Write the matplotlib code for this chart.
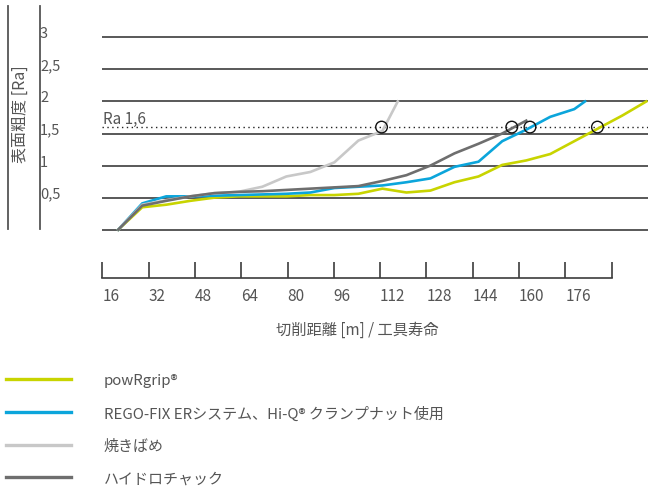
import matplotlib

matplotlib.use("Agg")
import matplotlib.pyplot as plt
from matplotlib.lines import Line2D

plt.rcParams["font.family"] = ["Noto Sans CJK JP", "DejaVu Sans"]

# distance travelled [m] for each measurement point
dist = [21.5, 29.8, 38.1, 46.4, 54.7, 63.0, 71.3, 79.6, 87.9, 96.2, 104.5, 112.8,
        121.1, 129.4, 137.7, 146.0, 154.2, 162.5, 170.8, 179.1, 187.4, 195.7, 204.0]

powrgrip = [0.0, 0.35, 0.39, 0.45, 0.50, 0.52, 0.52, 0.52, 0.54, 0.54, 0.56, 0.64,
            0.58, 0.61, 0.74, 0.83, 1.01, 1.08, 1.18, 1.38, 1.58, 1.78, 2.0]

regofix_x = dist[:20] + [182.8]
regofix = [0.0, 0.41, 0.52, 0.52, 0.53, 0.54, 0.55, 0.56, 0.58, 0.65, 0.67, 0.69,
           0.74, 0.80, 0.98, 1.06, 1.38, 1.56, 1.76, 1.88, 2.0]

shrink_x = dist[:12] + [118.1]
shrink = [0.0, 0.39, 0.46, 0.52, 0.57, 0.59, 0.67, 0.83, 0.90, 1.05, 1.39, 1.54, 2.0]

hydro_x = dist[:18]
hydro = [0.0, 0.375, 0.45, 0.52, 0.57, 0.59, 0.60, 0.62, 0.64, 0.66, 0.68, 0.76,
         0.85, 1.00, 1.19, 1.34, 1.50, 1.70]

# where each tool reaches Ra 1,6
ra_limit = 1.6
cross_x = [112.5, 157.5, 163.8, 187.1]

y_grid = [0, 0.5, 1, 1.5, 2, 2.5, 3]
y_labels = ["", "0,5", "1", "1,5", "2", "2,5", "3"]
x_ticks = [16, 32, 48, 64, 80, 96, 112, 128, 144, 160, 176, 192]
x_labels = ["16", "32", "48", "64", "80", "96", "112", "128", "144", "160", "176", ""]

names = ["powRgrip®", "REGO-FIX ERシステム、Hi-Q® クランプナット使用", "焼きばめ", "ハイドロチャック"]
colors = ["#c8d400", "#0ba5db", "#c8c8c8", "#6e6e6e"]
text_color = "#555555"

W, H = 648, 489
fig = plt.figure(figsize=(W / 100, H / 100), dpi=100)

# main plot area: x in metres, 16 m at px 102.3, 2.894 px per metre
x0_px, x1_px = 102.3, 648.0
px_per_m = 46.3 / 16
xlim = (16, 16 + (x1_px - x0_px) / px_per_m)
y0_px, y3_px = 230.7, 38.3
px_per_unit = (y0_px - y3_px) / 3
pad = 0.12
ax_bottom = y0_px + pad * px_per_unit
ax_top = y3_px - pad * px_per_unit
ax = fig.add_axes([x0_px / W, 1 - ax_bottom / H, (x1_px - x0_px) / W, (ax_bottom - ax_top) / H])
ax.set_xlim(*xlim)
ax.set_ylim(-pad, 3 + pad)
ax.axis("off")

for v, lab in zip(y_grid, y_labels):
    ax.axhline(v, color="#3c3c3c", lw=1.2, zorder=1)
    ax.text(-0.114, v, lab, transform=ax.get_yaxis_transform(), ha="left",
            va="baseline", fontsize=10.5, color=text_color)

ax.axhline(ra_limit, color="#222222", lw=1.0, ls=(0, (1, 2.5)), zorder=1)
ax.text(xlim[0] + 0.3, ra_limit + 0.06, "Ra 1,6", ha="left", va="baseline",
        fontsize=11, color=text_color)

series = [(dist, powrgrip), (regofix_x, regofix), (shrink_x, shrink), (hydro_x, hydro)]
handles = []
for (xs, ys), c, n in zip(series, colors, names):
    (ln,) = ax.plot(xs, ys, color=c, lw=1.9, label=n, zorder=3, solid_joinstyle="miter")
    handles.append(ln)

ax.scatter(cross_x, [ra_limit] * len(cross_x), s=70, facecolors="none",
           edgecolors="#111111", linewidths=1.0, zorder=4)

# bottom distance axis
base_px = 279.3
ax2 = fig.add_axes([x0_px / W, 1 - base_px / H, (x1_px - x0_px) / W, 17 / H])
ax2.set_xlim(*xlim)
for s in ["left", "right", "top"]:
    ax2.spines[s].set_visible(False)
ax2.spines["bottom"].set_bounds(16, 192)
ax2.spines["bottom"].set_color("#3c3c3c")
ax2.spines["bottom"].set_linewidth(1.2)
ax2.set_yticks([])
ax2.set_xticks(x_ticks)
ax2.set_xticklabels(x_labels)
ax2.tick_params(axis="x", direction="in", length=11.5, width=1.2, color="#3c3c3c",
                pad=6, labelsize=11, labelcolor=text_color)
for lbl in ax2.get_xticklabels():
    lbl.set_ha("left")
ax2.patch.set_visible(False)

fig.text(357 / W, 1 - 330 / H, "切削距離 [m] / 工具寿命", ha="center", va="center",
         fontsize=11, color=text_color)

# y label and the two vertical rules on the left
fig.text(20 / W, 1 - 114 / H, "表面粗度 [Ra]", rotation=90, ha="center", va="center",
         fontsize=11.5, color=text_color)
for xp in [7.5, 39.5]:
    fig.add_artist(Line2D([xp / W, xp / W], [1 - 7 / H, 1 - 230 / H],
                          transform=fig.transFigure, color="#555555", lw=1.3))

leg = fig.legend(handles=handles, loc="upper left", bbox_to_anchor=(0.0, 1 - 368 / H),
                 frameon=False, fontsize=10.8, handlelength=4.3, handletextpad=2.2,
                 labelspacing=1.22, borderaxespad=0, borderpad=0.4)
for t in leg.get_texts():
    t.set_color(text_color)
for h in leg.legend_handles:
    h.set_linewidth(2.4)

fig.savefig("out.png", dpi=100)
